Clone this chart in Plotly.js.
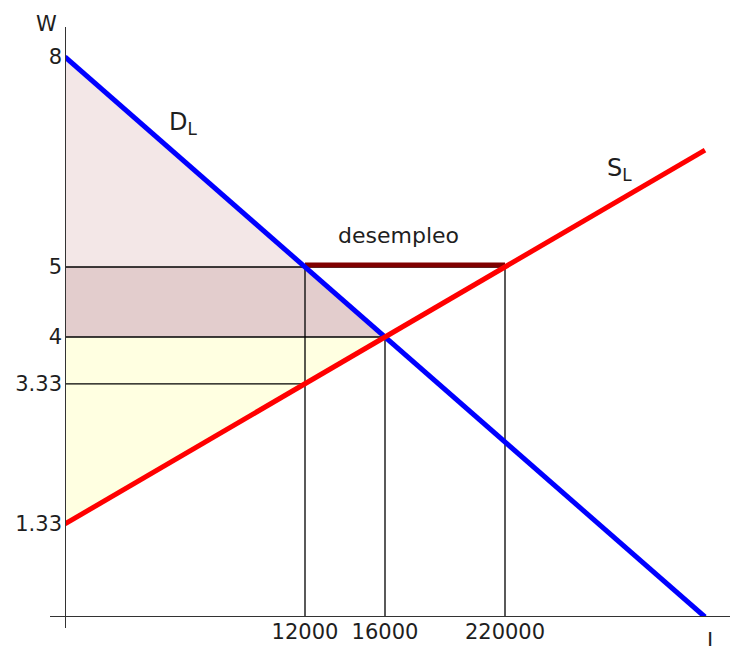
<!DOCTYPE html>
<html>
<head>
<meta charset="utf-8">
<script src="https://cdn.plot.ly/plotly-3.0.1.min.js"></script>
<style>html,body{margin:0;padding:0;background:#fff;}#chart{width:730px;height:646px;}</style>
</head>
<body>
<div id="chart"></div>
<script>
// ---- data ----
const wTickVals = [1.33, 3.33, 4, 5, 8];
const wTickText = ["1.33", "3.33", "4", "5", "8"];
const lTickVals = [12000, 16000, 22000];
const lTickText = ["12000", "16000", "220000"];

const demandL = [0, 32000];
const demandW = [8, 0];
const supplyL = [0, 32000];
const supplyW = [1.33, 6.67];

const wHigh = 5;      // salario mínimo
const wEq = 4;        // salario de equilibrio
const wLow = 3.33;
const lDemand = 12000;
const lEq = 16000;
const lSupply = 22000;

// ---- traces ----
const font = "DejaVu Sans, Verdana, sans-serif";
const txt = "#1e1e1e";
const traces = [
  { // top pink triangle
    x: [0, lDemand, 0], y: [demandW[0], wHigh, wHigh],
    fill: "toself", fillcolor: "#f3e7e7", mode: "lines", line: {width: 0}, hoverinfo: "skip"
  },
  { // rosy band between 4 and 5
    x: [0, lDemand, lEq, 0], y: [wHigh, wHigh, wEq, wEq],
    fill: "toself", fillcolor: "#e3cdcd", mode: "lines", line: {width: 0}, hoverinfo: "skip"
  },
  { // yellow triangle
    x: [0, lEq, 0], y: [wEq, wEq, supplyW[0]],
    fill: "toself", fillcolor: "#ffffe1", mode: "lines", line: {width: 0}, hoverinfo: "skip"
  },
  // guide lines
  { x: [0, lSupply], y: [wHigh, wHigh], mode: "lines", line: {color: "#000", width: 1.3}, hoverinfo: "skip" },
  { x: [0, lEq], y: [wEq, wEq], mode: "lines", line: {color: "#000", width: 1.3}, hoverinfo: "skip" },
  { x: [0, lDemand], y: [wLow, wLow], mode: "lines", line: {color: "#000", width: 1.3}, hoverinfo: "skip" },
  { x: [lDemand, lDemand], y: [0, wHigh], mode: "lines", line: {color: "#000", width: 1.3}, hoverinfo: "skip" },
  { x: [lEq, lEq], y: [0, wEq], mode: "lines", line: {color: "#000", width: 1.3}, hoverinfo: "skip" },
  { x: [lSupply, lSupply], y: [0, wHigh], mode: "lines", line: {color: "#000", width: 1.3}, hoverinfo: "skip" },
  // desempleo
  { x: [lDemand, lSupply], y: [wHigh + 0.03, wHigh + 0.03], mode: "lines", line: {color: "#800000", width: 5}, hoverinfo: "skip" },
  // demand and supply
  { x: demandL, y: demandW, mode: "lines", line: {color: "#0000ff", width: 5}, hoverinfo: "skip" },
  { x: supplyL, y: supplyW, mode: "lines", line: {color: "#ff0000", width: 5}, hoverinfo: "skip" }
];

const plotW = 730 - 65, plotH = 617;
const layout = {
  width: 730, height: 646,
  margin: {l: 65, r: 0, t: 0, b: 29, pad: 0},
  paper_bgcolor: "#ffffff", plot_bgcolor: "#ffffff",
  showlegend: false,
  font: {family: font, size: 21, color: txt},
  xaxis: {
    range: [0, plotW / 0.02], showgrid: false, zeroline: false, showline: false,
    tickvals: lTickVals, ticktext: lTickText, ticks: "", ticklabelstandoff: 0,
    tickfont: {family: font, size: 21, color: txt}, fixedrange: true
  },
  yaxis: {
    range: [0, plotH / 70], showgrid: false, zeroline: false, showline: false,
    tickvals: wTickVals, ticktext: wTickText, ticks: "", ticklabelstandoff: 2,
    tickfont: {family: font, size: 21, color: txt}, fixedrange: true
  },
  shapes: [
    {type: "line", xref: "x", yref: "paper", x0: 0, x1: 0, y0: -11 / plotH, y1: (617 - 27) / plotH,
     line: {color: "#333", width: 2}, layer: "above"},
    {type: "line", xref: "paper", yref: "y", x0: -15 / plotW, x1: 1, y0: 0, y1: 0,
     line: {color: "#333", width: 2}, layer: "above"}
  ],
  annotations: [
    {text: "W", xref: "paper", yref: "paper", x: -19 / plotW, y: (617 - 24) / plotH,
     xanchor: "center", yanchor: "middle",
     showarrow: false, font: {family: font, size: 21, color: txt}},
    {text: "L", xref: "paper", yref: "paper", x: (713 - 65) / plotW, y: -10 / plotH,
     xanchor: "center", yanchor: "top",
     showarrow: false, font: {family: font, size: 21, color: txt}},
    {text: "D<sub>L</sub>", xref: "x", yref: "y", x: 5900, y: 7.05,
     xanchor: "center", yanchor: "middle",
     showarrow: false, font: {family: font, size: 24, color: txt}},
    {text: "S<sub>L</sub>", xref: "x", yref: "y", x: 27700, y: 6.4,
     xanchor: "center", yanchor: "middle",
     showarrow: false, font: {family: font, size: 24, color: txt}},
    {text: "desempleo", xref: "x", yref: "y", x: 16650, y: 5.45,
     xanchor: "center", yanchor: "middle",
     showarrow: false, font: {family: font, size: 22, color: txt}}
  ]
};

Plotly.newPlot("chart", traces, layout, {displayModeBar: false, staticPlot: true});
</script>
</body>
</html>
